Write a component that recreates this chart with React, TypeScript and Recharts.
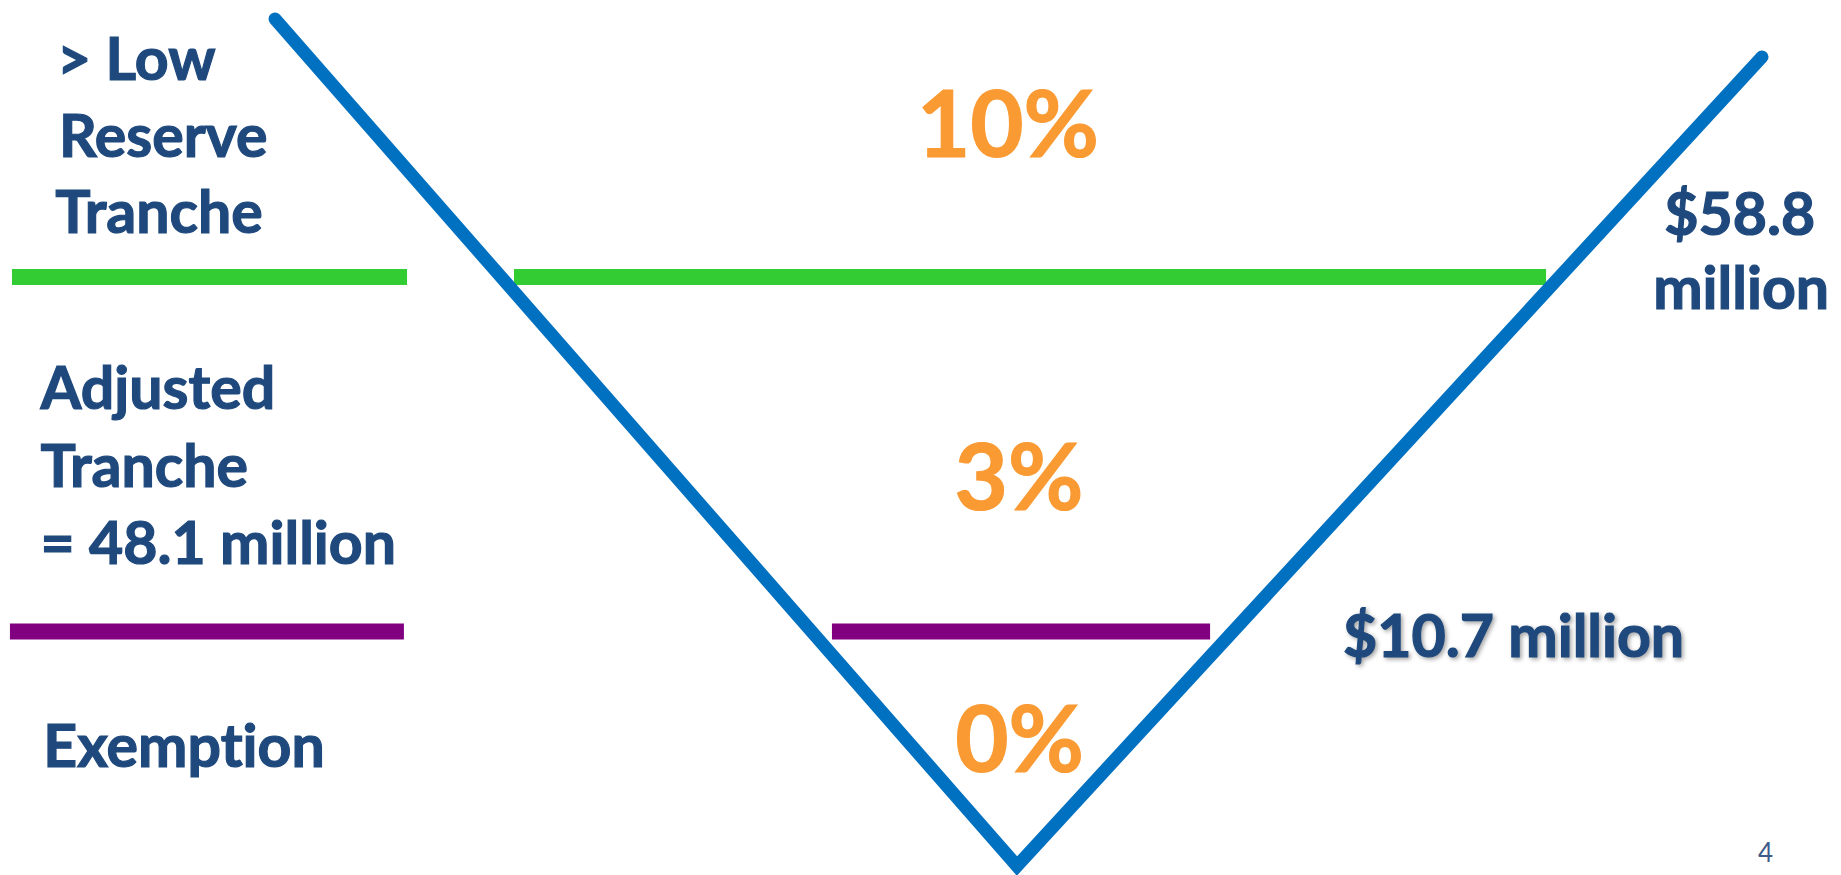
import { LineChart, Line, XAxis, YAxis, ReferenceLine, ReferenceDot } from 'recharts';

// chart space: x and y both run 0..100 across the slide (y upward)
const vX = [14.94, 55.24, 95.71];
const vY = [97.83, 1.03, 93.49];

const lowReserveLevel = 68.34;
const lowReserveSpans = [
  [0.65, 22.11],
  [27.92, 83.98],
];
const exemptionLevel = 27.83;
const exemptionSpans = [
  [0.54, 21.94],
  [45.19, 65.73],
];

const tierText = ['> Low', 'Reserve', 'Tranche', 'Adjusted', 'Tranche', '= 48.1 million', 'Exemption'];
const tierTextX = [3.1, 3.2, 3.0, 2.2, 2.2, 2.2, 2.35];
const tierTextY = [90.86, 82.06, 73.37, 53.26, 44.34, 35.54, 12.34];

const rateText = ['10%', '3%', '0%'];
const rateX = [54.75, 55.35, 55.38];
const rateY = [82.06, 41.71, 11.77];

const amountText = ['$58.8', 'million', '$10.7 million'];
const amountX = [90.4, 89.8, 72.95];
const amountY = [73.14, 64.69, 24.91];

const pageNumber = '4';
const pageX = 95.49;
const pageY = 1.49;

const NAVY = '#1F497D';
const ORANGE = '#FA9A33';
const FONT = "Lato, 'Open Sans', sans-serif";

const vData = vX.map((x, i) => ({ x, y: vY[i] }));

function textLabel(
  text: string,
  opts: { size: number; fill: string; anchor?: string; weight?: number; shadow?: boolean; thick?: number },
) {
  return (props: any) => {
    const vb = props.viewBox || {};
    const style: any = { fontVariantLigatures: 'none' };
    if (opts.shadow) style.filter = 'drop-shadow(2px 2px 2px rgba(0,0,0,0.35))';
    return (
      <text
        x={vb.x + (vb.width || 0) / 2}
        y={vb.y + (vb.height || 0) / 2}
        fontFamily={FONT}
        fontWeight={opts.weight ?? 700}
        fontSize={opts.size}
        fill={opts.fill}
        stroke={opts.thick ? opts.fill : 'none'}
        strokeWidth={opts.thick ?? 0}
        textAnchor={opts.anchor ?? 'start'}
        style={style}
      >
        {text}
      </text>
    );
  };
}

export default function App() {
  return (
    <div style={{ position: 'absolute', left: 0, top: 0, background: '#fff' }}>
      <LineChart width={1841} height={875} margin={{ top: 0, right: 0, bottom: 0, left: 0 }}>
        <XAxis type="number" dataKey="x" domain={[0, 100]} hide allowDataOverflow />
        <YAxis type="number" dataKey="y" domain={[0, 100]} hide allowDataOverflow />
        {lowReserveSpans.map(([a, b], i) => (
          <ReferenceLine
            key={`g${i}`}
            segment={[{ x: a, y: lowReserveLevel }, { x: b, y: lowReserveLevel }]}
            stroke="#33CC33"
            strokeWidth={16}
          />
        ))}
        {exemptionSpans.map(([a, b], i) => (
          <ReferenceLine
            key={`p${i}`}
            segment={[{ x: a, y: exemptionLevel }, { x: b, y: exemptionLevel }]}
            stroke="#800080"
            strokeWidth={16}
          />
        ))}
        <Line
          data={vData}
          dataKey="y"
          type="linear"
          stroke="#0070C0"
          strokeWidth={13}
          strokeLinecap="round"
          strokeLinejoin="miter"
          dot={false}
          activeDot={false}
          isAnimationActive={false}
        />
        {tierText.map((t, i) => (
          <ReferenceDot
            key={`t${i}`}
            x={tierTextX[i]}
            y={tierTextY[i]}
            r={0}
            fill="none"
            stroke="none"
            label={textLabel(t, { size: 59, fill: NAVY, thick: 1.2 })}
          />
        ))}
        {rateText.map((t, i) => (
          <ReferenceDot
            key={`r${i}`}
            x={rateX[i]}
            y={rateY[i]}
            r={0}
            fill="none"
            stroke="none"
            label={textLabel(t, { size: 92, fill: ORANGE, anchor: 'middle', thick: 1.2 })}
          />
        ))}
        {amountText.map((t, i) => (
          <ReferenceDot
            key={`a${i}`}
            x={amountX[i]}
            y={amountY[i]}
            r={0}
            fill="none"
            stroke="none"
            label={textLabel(t, { size: 59, fill: NAVY, shadow: i === 2, thick: 1.2 })}
          />
        ))}
        <ReferenceDot
          x={pageX}
          y={pageY}
          r={0}
          fill="none"
          stroke="none"
          label={textLabel(pageNumber, { size: 26, fill: '#3E5C8A', weight: 400 })}
        />
      </LineChart>
    </div>
  );
}
